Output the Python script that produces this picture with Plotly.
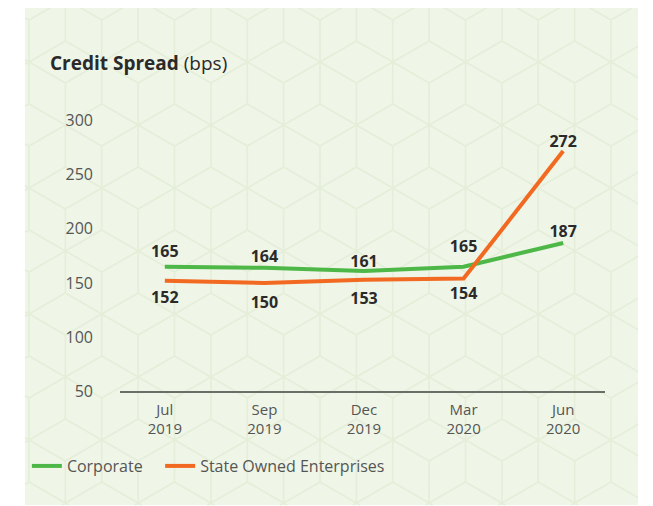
import math
import plotly.graph_objects as go

categories = ["Jul<br>2019", "Sep<br>2019", "Dec<br>2019", "Mar<br>2020", "Jun<br>2020"]
corporate = [165, 164, 161, 165, 187]
soe = [152, 150, 153, 154, 272]
corp_textpos = ["top center"] * 5
soe_textpos = ["bottom center"] * 4 + ["top center"]
y_ticks = [50, 100, 150, 200, 250, 300]

# invisible marker sizes, used only to push each value label off its point
corp_label_pad = [8, 2, 0, 16, 2]
soe_label_pad = [14, 20, 18, 12, 0]

GREEN = "#4DB848"
ORANGE = "#F26A21"
FONT = "Open Sans"

# figure geometry (page is offset by the 8px body margin)
W, H = 645, 498
ML, MR, MT, MB = 112, 48, 102, 115
PW, PH = W - ML - MR, H - MT - MB


def to_paper(px, py):
    return (px - ML) / PW, (H - MB - py) / PH


# panel rectangle in figure pixels
PX0, PX1, PY0, PY1 = 17, 630, -1, 497


def clip(x0, y0, x1, y1):
    t0, t1 = 0.0, 1.0
    dx, dy = x1 - x0, y1 - y0
    for p, q in ((-dx, x0 - PX0), (dx, PX1 - x0), (-dy, y0 - PY0), (dy, PY1 - y0)):
        if p == 0:
            if q < 0:
                return None
        else:
            r = q / p
            if p < 0:
                t0 = max(t0, r)
            else:
                t1 = min(t1, r)
    if t0 > t1:
        return None
    return x0 + t0 * dx, y0 + t0 * dy, x0 + t1 * dx, y0 + t1 * dy


# faint decorative tumbling-block background pattern
s = 42.0
a = math.sqrt(3) * s
cx0, cy0 = 312.0, 54.0
segs = []
for r in range(-3, 10):
    for k in range(-6, 12):
        cx = cx0 + a * k + (a / 2 if r % 2 else 0)
        cy = cy0 + 1.5 * s * r
        for ang in (90, 30, -30, -90, -150, 150):
            vx = cx + s * math.cos(math.radians(ang))
            vy = cy - s * math.sin(math.radians(ang))
            c = clip(cx, cy, vx, vy)
            if c:
                segs.append(c)
path = ""
for x0, y0, x1, y1 in segs:
    a0, b0 = to_paper(x0, y0)
    a1, b1 = to_paper(x1, y1)
    path += f"M{a0:.4f},{b0:.4f} L{a1:.4f},{b1:.4f} "

hidden_marker = dict(color="rgba(0,0,0,0)", opacity=0,
                     line=dict(width=0, color="rgba(0,0,0,0)"))

fig = go.Figure()
fig.add_trace(go.Scatter(
    x=categories, y=corporate, name="Corporate&nbsp;&nbsp;&nbsp;",
    mode="lines+markers+text",
    line=dict(color=GREEN, width=4),
    marker=dict(size=corp_label_pad, **hidden_marker),
    text=[str(v) for v in corporate], textposition=corp_textpos,
    textfont=dict(family=FONT, size=16, color="#2a2a2a", weight="bold"),
    cliponaxis=False,
))
fig.add_trace(go.Scatter(
    x=categories, y=soe, name="State Owned Enterprises",
    mode="lines+markers+text",
    line=dict(color=ORANGE, width=4),
    marker=dict(size=soe_label_pad, **hidden_marker),
    text=[str(v) for v in soe], textposition=soe_textpos,
    textfont=dict(family=FONT, size=16, color="#2a2a2a", weight="bold"),
    cliponaxis=False,
))

px0, py0 = to_paper(PX0, PY1)
px1, py1 = to_paper(PX1, PY0)
fig.add_shape(type="rect", xref="paper", yref="paper",
              x0=px0, x1=px1, y0=py0, y1=py1,
              fillcolor="#EFF5E7", line=dict(width=0), layer="below")
fig.add_shape(type="path", xref="paper", yref="paper", path=path,
              line=dict(color="#E4EED8", width=1.6), layer="below")

fig.update_layout(
    width=W, height=H,
    margin=dict(l=ML, r=MR, t=MT, b=MB),
    paper_bgcolor="white", plot_bgcolor="rgba(0,0,0,0)",
    font=dict(family=FONT, size=16, color="#555555"),
    title=dict(text="<b>Credit Spread</b> (bps)", x=42/W, xanchor="left",
               y=1-55/H, yanchor="middle",
               font=dict(family=FONT, size=19, color="#2a2a2a")),
    showlegend=True,
    legend=dict(orientation="h", x=-0.192, xanchor="left", y=-0.267, yanchor="middle",
                font=dict(family=FONT, size=16, color="#555555"),
                bgcolor="rgba(0,0,0,0)", itemwidth=30),
    xaxis=dict(type="category", range=[-0.45, 4.42], showgrid=False,
               showline=True, linecolor="#6b6e66", linewidth=1.5,
               ticks="", ticklabelstandoff=4,
               tickfont=dict(family=FONT, size=15, color="#555555")),
    yaxis=dict(range=[50, 310], tickvals=y_ticks, showgrid=False, zeroline=False,
               showline=False, ticks="", ticklabelstandoff=26,
               tickfont=dict(family=FONT, size=16, color="#555555")),
)

fig.write_html("out.html")
